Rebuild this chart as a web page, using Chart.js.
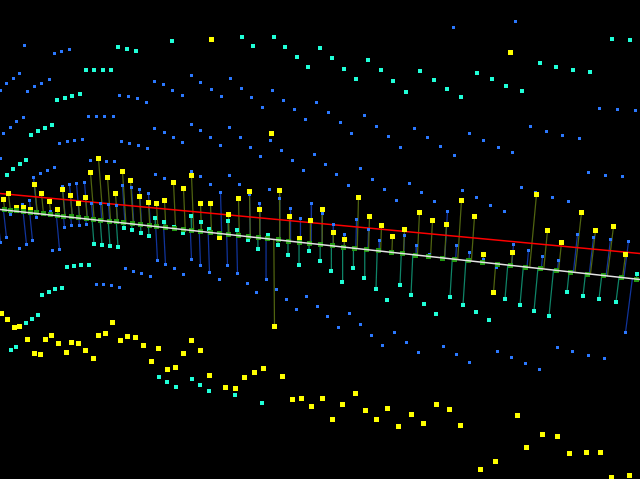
<!DOCTYPE html>
<html><head><meta charset="utf-8">
<style>html,body{margin:0;padding:0;background:#000;overflow:hidden}canvas{display:block}</style>
<script src="https://cdn.jsdelivr.net/npm/chart.js@4"></script>
</head><body><canvas id="c" width="640" height="479"></canvas>
<script>
// Marks, as [horizontal, vertical] plot values
const yellowStemmed=[[3.5,199.5],[8.5,193.5],[16.5,207.5],[23.5,207.5],[30.5,209.5],[34.5,184.5],[41.5,193.5],[49.5,201.5],[57.5,209.5],[62.5,189.5],[70.5,195.5],[78.5,203.5],[85.5,197.5],[90.5,172.5],[98.5,158.5],[107.5,177.5],[115.5,193.5],[122.5,171.5],[130.5,180.5],[139.5,196.5],[148.5,202.5],[156.5,203.5],[164.5,200.5],[173.5,182.5],[183.5,188.5],[191.5,175.5],[200.5,203.5],[210.5,203.5],
[219.5,237.5],[228.5,214.5],[238.5,198.5],[249.5,191.5],[259.5,209.5],[274.5,326.5],[279.5,190.5],[289.5,216.5],[299.5,238.5],[310.5,220.5],[322.5,209.5],[333.5,232.5],[344.5,239.5],[358.5,197.5],[369.5,216.5],[381.5,225.5],[392.5,236.5],[404.5,229.5],[419.5,212.5],
[432.5,220.5],[446.5,224.5],[461.5,200.5],[474.5,216.5],[483.5,254.5],[493.5,292.5],[512.5,252.5],[536.5,194.5],[547.5,230.5],[561.5,242.5],[581.5,212.5],[595.5,230.5],[613.5,226.5],[625.5,254.5]];
const yellowFree=[[211.5,39.5],[271.5,133.5],[510.5,52.5],
[1.5,313.5],[7.5,319.5],[14.5,327.5],[19.5,326.5],[27.5,339.5],[34.5,353.5],[40.5,354.5],[45.5,339.5],[51.5,335.5],[58.5,343.5],[66.5,352.5],[71.5,342.5],[78.5,343.5],[85.5,350.5],[93.5,358.5],[98.5,335.5],[105.5,333.5],[112.5,322.5],[120.5,340.5],[127.5,336.5],[135.5,337.5],[143.5,345.5],[151.5,361.5],[158.5,348.5],[167.5,369.5],[175.5,367.5],[183.5,353.5],[191.5,340.5],[200.5,350.5],[209.5,375.5],
[225.5,387.5],[235.5,388.5],[244.5,377.5],[254.5,372.5],[263.5,368.5],[282.5,376.5],[292.5,399.5],[301.5,398.5],[311.5,406.5],[322.5,398.5],[332.5,419.5],[342.5,404.5],[355.5,393.5],[365.5,410.5],[376.5,419.5],[387.5,408.5],[398.5,426.5],[411.5,414.5],[423.5,423.5],
[436.5,404.5],[449.5,409.5],[460.5,425.5],[517.5,415.5],[542.5,434.5],[557.5,436.5],[526.5,447.5],[569.5,453.5],[586.5,452.5],[600.5,452.5],[495.5,461.5],[480.5,469.5],[611.5,477.5],[629.5,475.5]];
const cyanStemmed=[[94,244],[102,245],[110,246],[118,247],[124,228],[132,230],[141,233],[149,236],[155,218],[164,222],[174,227],[183,233],[191,216],[201,222],[209,229],
[228,221],[237,230],[248,240],[258,249],[268,235],[278,245],[288,255],[299,265],[309,251],[320,261],[331,271],[342,282],[353,268],[364,278],[376,289],[400,285],[411,295],
[450,297],[463,305],[505,299],[520,305],[534,311],[549,316],[567,292],[583,296],[599,299],[616,302],[637,274]];
const cyanFree=[[242,37],[274,37],[253,46],[285,47],[297,57],[308,67],[320,48],[332,58],[344,69],[356,79],[368,60],[381,70],[393,81],[406,92],[420,71],
[434,80],[447,89],[461,97],[477,73],[492,79],[506,86],[522,91],[540,63],[556,67],[573,70],[590,72],[612,39],[630,40],
[118,47],[127,49],[136,51],[86,70],[94,70],[103,70],[111,70],[57,100],[65,98],[72,96],[80,94],[31,135],[38,131],[45,128],[52,125],[172,41],
[7,175],[13,169],[20,164],[26,160],[67,267],[74,266],[81,265],[89,265],[42,295],[49,292],[55,289],[62,288],
[11,350],[16,347],[26,323],[32,319],[38,315],[159,377],[167,382],[176,387],[192,379],[200,385],[209,391],[235,395],[262,403],
[387,300],[424,304],[436,314],[476,312],[489,320]];
const blueStemmed=[[0.5,242.5],[6.5,237.5],[26.5,244.5],[32.5,240.5],[59.5,249.5],[10.5,214.5],[22.5,204.5],[29.5,200.5],[33.5,177.5],[36.5,217.5],[50.5,211.5],[64.5,227.5],[71.5,225.5],[79.5,225.5],[86.5,224.5],[62.5,186.5],[69.5,184.5],[76.5,183.5],[84.5,182.5],[91.5,203.5],[100.5,203.5],[108.5,204.5],[116.5,205.5],[122.5,185.5],[131.5,187.5],[139.5,189.5],[148.5,193.5],[157.5,260.5],[165.5,264.5],[191.5,259.5],[200.5,265.5],[209.5,272.5],
[220.5,192.5],[249.5,194.5],[259.5,203.5],[279.5,198.5],[290.5,208.5],[300.5,218.5],[311.5,203.5],[322.5,213.5],[333.5,224.5],[344.5,234.5],[356.5,219.5],[368.5,229.5],[379.5,240.5],[404.5,235.5],[416.5,245.5],[227.5,265.5],[237.5,273.5],[266.5,279.5],
[447.5,211.5],[456.5,245.5],[469.5,252.5],[513.5,244.5],[528.5,250.5],[542.5,256.5],[558.5,260.5],[577.5,234.5],[593.5,237.5],[610.5,239.5],[628.5,241.5],[625.5,332.5],[496.5,267.5],[483.5,259.5],[429.5,254.5]];
const blueFree=[[24.5,45.5],[54.5,53.5],[61.5,51.5],[69.5,49.5],[19.5,73.5],[13.5,78.5],[6.5,83.5],[0.5,90.5],[27.5,91.5],[34.5,86.5],[41.5,83.5],[49.5,79.5],[119.5,95.5],[128.5,96.5],[137.5,98.5],[146.5,102.5],[154.5,81.5],[163.5,84.5],[172.5,90.5],[182.5,95.5],[191.5,75.5],[200.5,82.5],[211.5,89.5],
[88.5,116.5],[96.5,116.5],[104.5,116.5],[113.5,116.5],[23.5,117.5],[16.5,121.5],[10.5,127.5],[3.5,133.5],[59.5,143.5],[67.5,141.5],[74.5,140.5],[82.5,139.5],[121.5,141.5],[129.5,143.5],[138.5,145.5],[147.5,148.5],[154.5,128.5],[164.5,132.5],[173.5,137.5],[182.5,142.5],[191.5,124.5],[200.5,130.5],[210.5,137.5],[0.5,158.5],[90.5,160.5],
[230.5,78.5],[241.5,88.5],[221.5,96.5],[251.5,97.5],[262.5,107.5],[272.5,90.5],[283.5,100.5],[294.5,109.5],[305.5,119.5],[316.5,102.5],[328.5,112.5],[340.5,122.5],[351.5,133.5],[364.5,115.5],[376.5,126.5],[388.5,136.5],[400.5,147.5],[414.5,128.5],[229.5,127.5],[240.5,137.5],[220.5,145.5],[250.5,147.5],[260.5,156.5],[270.5,140.5],[281.5,150.5],[292.5,160.5],[314.5,154.5],
[303.5,170.5],[325.5,164.5],[336.5,174.5],[348.5,185.5],[360.5,168.5],[372.5,179.5],[384.5,189.5],[396.5,200.5],[409.5,183.5],[421.5,192.5],[229.5,175.5],[239.5,184.5],[269.5,189.5],
[219.5,279.5],[247.5,283.5],[256.5,292.5],[276.5,289.5],[286.5,299.5],[296.5,309.5],[306.5,296.5],[317.5,306.5],[327.5,316.5],[338.5,327.5],[349.5,313.5],[360.5,324.5],[371.5,335.5],[382.5,345.5],[394.5,332.5],[406.5,342.5],[418.5,352.5],
[453.5,27.5],[515.5,21.5],[599.5,108.5],[617.5,109.5],[635.5,110.5],[530.5,126.5],[546.5,131.5],[562.5,135.5],[579.5,138.5],[469.5,133.5],[483.5,140.5],[498.5,147.5],[512.5,152.5],[427.5,137.5],[440.5,146.5],[454.5,155.5],
[588.5,172.5],[605.5,175.5],[622.5,176.5],[462.5,190.5],[434.5,201.5],[476.5,197.5],[490.5,205.5],[504.5,211.5],[521.5,187.5],[552.5,197.5],[568.5,201.5],[535.5,192.5],
[443.5,346.5],[456.5,354.5],[469.5,362.5],[497.5,351.5],[511.5,357.5],[525.5,363.5],[539.5,369.5],[557.5,347.5],[572.5,351.5],[588.5,355.5],[604.5,358.5],
[47.5,170.5],[40.5,173.5],[54.5,167.5],[106.5,161.5],[114.5,161.5],[155.5,174.5],[164.5,178.5],[191.5,171.5],[200.5,176.5],[210.5,184.5],[174.5,268.5],[183.5,274.5],[125.5,268.5],[133.5,271.5],[141.5,273.5],[150.5,276.5],[96.5,284.5],[103.5,284.5],[111.5,285.5],[119.5,287.5],[19.5,248.5],[52.5,250.5]];
const greenMarks=[[4.5,209.5],[10.5,210.5],[16.5,210.5],[23.5,211.5],[30.5,212.5],[36.5,212.5],[43.5,213.5],[50.5,214.5],[57.5,215.5],[63.5,216.5],[71.5,216.5],[78.5,217.5],[86.5,218.5],[93.5,219.5],[100.5,220.5],[109.5,221.5],[116.5,221.5],[123.5,222.5],[132.5,223.5],[140.5,224.5],[149.5,225.5],[156.5,226.5],[165.5,227.5],[174.5,228.5],[183.5,229.5],[191.5,230.5],[200.5,231.5],[210.5,232.5],
[219.5,233.5],[228.5,234.5],[238.5,235.5],[248.5,236.5],[258.5,237.5],[267.5,238.5],[278.5,239.5],[288.5,241.5],[299.5,242.5],[309.5,243.5],[320.5,244.5],[332.5,245.5],[343.5,247.5],[354.5,248.5],[366.5,249.5],[378.5,250.5],[391.5,252.5],[402.5,253.5],[415.5,255.5],
[428.5,256.5],[442.5,258.5],[454.5,259.5],[468.5,260.5],[482.5,262.5],[497.5,264.5],[510.5,265.5],[525.5,267.5],[540.5,268.5],[556.5,270.5],[570.5,272.5],[587.5,274.5],[603.5,275.5],[621.5,277.5],[636.5,279.5]];
const lineEnds=[0,640];
const whiteLine=[209.5,279.5];
const redLine=[193.5,253.5];

const pts=a=>a.map(p=>({x:p[0],y:p[1]}));
const two=(ys)=>lineEnds.map((x,i)=>({x,y:ys[i]}));
// each stem falls onto the white line, leaning with the view's perspective
const lean=2600, lx=295;
function stems(list){
  const out=[];
  list.forEach(([x,y])=>{
    const by=whiteLine[0]+(whiteLine[1]-whiteLine[0])*x/lineEnds[1];
    out.push({x,y},{x:x+(lx-x)*(by-y)/lean,y:by},{x,y:null});
  });
  return out;
}
const stemSet=(data,c,order)=>({data,showLine:true,spanGaps:false,borderColor:c,borderWidth:1.25,pointRadius:0,order});
const markSet=(data,c,side,order)=>({data,showLine:false,pointStyle:'rect',pointRadius:side/Math.SQRT2,pointBackgroundColor:c,pointBorderWidth:0,order});

new Chart(document.getElementById('c'),{
  type:'scatter',
  data:{datasets:[
    stemSet(stems(blueStemmed),'#11349c',90),
    stemSet(stems(cyanStemmed),'#0f8468',89),
    stemSet(stems(yellowStemmed),'#506410',88),
    {data:two(redLine),showLine:true,borderColor:'#ff0000',borderWidth:1.3,pointRadius:0,order:80},
    markSet(pts(blueFree.concat(blueStemmed)),'#2b78ff',3,70),
    markSet(pts(cyanFree.concat(cyanStemmed)),'#20ffd8',4,60),
    markSet(pts(yellowFree.concat(yellowStemmed)),'#ffff00',5,50),
    markSet(pts(greenMarks),'#229911',5,40),
    {data:two(whiteLine),showLine:true,borderColor:'#e4e4e4',borderWidth:1.3,pointRadius:0,order:30}
  ]},
  options:{
    responsive:false,animation:false,
    layout:{padding:0,autoPadding:false},
    plugins:{legend:{display:false},tooltip:{enabled:false},title:{display:false}},
    scales:{
      x:{type:'linear',min:0,max:640,display:false},
      y:{type:'linear',min:0,max:479,reverse:true,display:false}
    }
  }
});
</script></body></html>
